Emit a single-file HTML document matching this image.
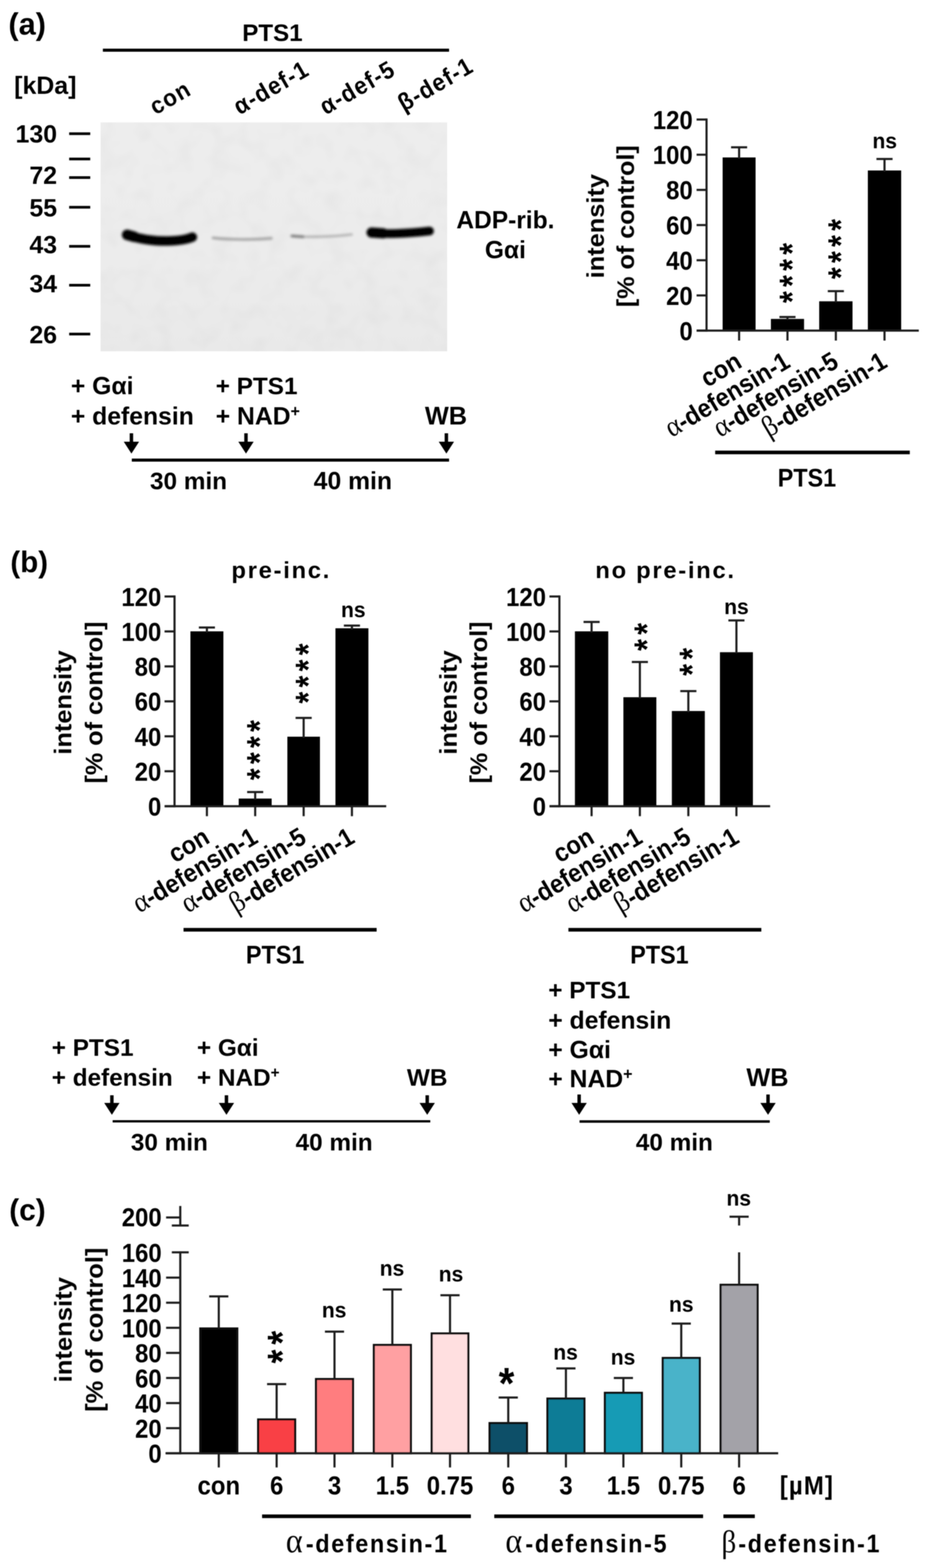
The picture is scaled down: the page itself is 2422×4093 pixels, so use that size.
<!DOCTYPE html>
<html lang="en">
<head>
<meta charset="utf-8">
<title>Figure: defensins and PTS1-mediated ADP-ribosylation of Gαi</title>
<style>
html,body{margin:0;padding:0;background:#fff;}
body{width:2422px;height:4093px;overflow:hidden;}
svg{display:block;}
text{font-family:"Liberation Sans",Arial,sans-serif;font-weight:bold;fill:#000;}
</style>
</head>
<body>
<svg width="2422" height="4093" viewBox="0 0 2422 4093">
<defs>
<filter id="b6" x="-20%" y="-100%" width="140%" height="300%"><feGaussianBlur stdDeviation="3.2"/></filter>
<filter id="b4" x="-20%" y="-100%" width="140%" height="300%"><feGaussianBlur stdDeviation="3"/></filter>
<linearGradient id="gelg" x1="0" y1="0" x2="0" y2="1"><stop offset="0" stop-color="#ededed"/><stop offset="0.55" stop-color="#ececec"/><stop offset="1" stop-color="#e9e9e9"/></linearGradient>
<filter id="noise" x="0" y="0" width="100%" height="100%"><feTurbulence type="fractalNoise" baseFrequency="0.02" numOctaves="2" seed="7" result="n"/><feColorMatrix in="n" type="matrix" values="0 0 0 0 0  0 0 0 0 0  0 0 0 0 0  0.9 0 0 0 -0.36" result="a"/><feComposite in="a" in2="SourceGraphic" operator="in"/></filter>
<filter id="soft" x="-1%" y="-1%" width="102%" height="102%"><feGaussianBlur stdDeviation="1.1"/></filter>
</defs>
<rect x="0" y="0" width="2422" height="4093" fill="#fff"/>
<g filter="url(#soft)">

<!-- panel a -->
<text transform="translate(22 90)" font-size="80">(a)</text>
<text transform="translate(711 107)" font-size="63" text-anchor="middle">PTS1</text>
<line x1="268.5" y1="131" x2="1172" y2="131" stroke="#000" stroke-width="8"/>
<text transform="translate(37 245)" font-size="65">[kDa]</text>
<text transform="translate(406 301) rotate(-30) scale(0.92 1)" font-size="63.5" letter-spacing="3.2">con</text>
<text transform="translate(625 301) rotate(-30) scale(0.92 1)" font-size="63.5" letter-spacing="3.2">α-def-1</text>
<text transform="translate(850 301) rotate(-30) scale(0.92 1)" font-size="63.5" letter-spacing="3.2">α-def-5</text>
<text transform="translate(1054 292) rotate(-30) scale(0.92 1)" font-size="63.5" letter-spacing="3.2">β-def-1</text>
<rect x="262.5" y="319.5" width="904.5" height="597.5" fill="url(#gelg)"/>
<rect x="262.5" y="319.5" width="904.5" height="597.5" fill="#000" opacity="0.05" filter="url(#noise)"/>
<g filter="url(#b6)" fill="none" stroke="#000" stroke-linecap="round">
<path d="M333 614 C365 624 400 630 440 629 C470 628 490 624 502 619" stroke-width="25"/>
<path d="M332 613 L350 618" stroke-width="28"/>
<path d="M968 607 C1000 612 1060 610 1121 603" stroke-width="23"/>
<path d="M970 607 L1000 609" stroke-width="27"/>
</g>
<g filter="url(#b4)" fill="none" stroke="#000" stroke-linecap="round">
<path d="M556 621 C600 626 660 626 708 622" stroke-width="7" opacity="0.3"/>
<path d="M762 616 C800 620 870 618 918 612" stroke-width="6" opacity="0.25"/>
<path d="M762 616 L790 618" stroke-width="8" opacity="0.3"/>
</g>
<line x1="180.5" y1="349" x2="235.5" y2="349" stroke="#000" stroke-width="7"/>
<text transform="translate(149 372)" font-size="65" text-anchor="end">130</text>
<line x1="180.5" y1="415" x2="235.5" y2="415" stroke="#000" stroke-width="7"/>
<line x1="180.5" y1="463.5" x2="235.5" y2="463.5" stroke="#000" stroke-width="7"/>
<text transform="translate(149 480)" font-size="65" text-anchor="end">72</text>
<line x1="180.5" y1="541" x2="235.5" y2="541" stroke="#000" stroke-width="7"/>
<text transform="translate(149 565)" font-size="65" text-anchor="end">55</text>
<line x1="180.5" y1="643" x2="235.5" y2="643" stroke="#000" stroke-width="7"/>
<text transform="translate(149 660.5)" font-size="65" text-anchor="end">43</text>
<line x1="180.5" y1="744.5" x2="235.5" y2="744.5" stroke="#000" stroke-width="7"/>
<text transform="translate(149 762.5)" font-size="65" text-anchor="end">34</text>
<line x1="180.5" y1="872" x2="235.5" y2="872" stroke="#000" stroke-width="7"/>
<text transform="translate(149 896)" font-size="65" text-anchor="end">26</text>
<text transform="translate(1319 596)" font-size="64" text-anchor="middle">ADP-rib.</text>
<text transform="translate(1319 674)" font-size="64" text-anchor="middle">Gαi</text>
<text transform="translate(185 1029)" font-size="64.5">+ Gαi</text>
<text transform="translate(185 1108)" font-size="64.5">+ defensin</text>
<text transform="translate(563 1029)" font-size="63.5">+ PTS1</text>
<text transform="translate(563 1108)" font-size="64.5">+ NAD<tspan font-size="42" dy="-21">+</tspan></text>
<text transform="translate(1164 1108)" font-size="66" text-anchor="middle">WB</text>
<path d="M338.5 1131 H347.5 V1153 H363 L343 1184 L323 1153 H338.5 Z" fill="#000"/>
<path d="M637.5 1131 H646.5 V1153 H662 L642 1184 L622 1153 H637.5 Z" fill="#000"/>
<path d="M1160.5 1131 H1169.5 V1153 H1185 L1165 1184 L1145 1153 H1160.5 Z" fill="#000"/>
<line x1="344" y1="1201" x2="1172" y2="1201" stroke="#000" stroke-width="8"/>
<text transform="translate(492 1277)" font-size="63.5" text-anchor="middle">30 min</text>
<text transform="translate(921 1277)" font-size="64.5" text-anchor="middle">40 min</text>
<rect x="1886" y="411" width="86" height="452" fill="#000"/>
<rect x="2012" y="832.5" width="86.5" height="30.5" fill="#000"/>
<rect x="2138" y="786.5" width="87" height="76.5" fill="#000"/>
<rect x="2265" y="445" width="87" height="418" fill="#000"/>
<line x1="1929" y1="414" x2="1929" y2="384.5" stroke="#1c1c1c" stroke-width="5.5"/>
<line x1="1908" y1="384.5" x2="1950" y2="384.5" stroke="#1c1c1c" stroke-width="5.5"/>
<line x1="2055.25" y1="835.5" x2="2055.25" y2="827.5" stroke="#1c1c1c" stroke-width="5.5"/>
<line x1="2034.25" y1="827.5" x2="2076.25" y2="827.5" stroke="#1c1c1c" stroke-width="5.5"/>
<line x1="2181.5" y1="789.5" x2="2181.5" y2="760" stroke="#1c1c1c" stroke-width="5.5"/>
<line x1="2160.5" y1="760" x2="2202.5" y2="760" stroke="#1c1c1c" stroke-width="5.5"/>
<line x1="2308.5" y1="448" x2="2308.5" y2="415" stroke="#1c1c1c" stroke-width="5.5"/>
<line x1="2287.5" y1="415" x2="2329.5" y2="415" stroke="#1c1c1c" stroke-width="5.5"/>
<line x1="1844" y1="309.25" x2="1844" y2="865.75" stroke="#1c1c1c" stroke-width="5.5"/>
<line x1="1818" y1="863" x2="2398" y2="863" stroke="#1c1c1c" stroke-width="5.5"/>
<line x1="1818" y1="863" x2="1844" y2="863" stroke="#1c1c1c" stroke-width="5.5"/>
<text transform="translate(1808 887.5) scale(1 1.09)" font-size="62.5" text-anchor="end">0</text>
<line x1="1818" y1="771.17" x2="1844" y2="771.17" stroke="#1c1c1c" stroke-width="5.5"/>
<text transform="translate(1808 795.67) scale(1 1.09)" font-size="62.5" text-anchor="end">20</text>
<line x1="1818" y1="679.33" x2="1844" y2="679.33" stroke="#1c1c1c" stroke-width="5.5"/>
<text transform="translate(1808 703.83) scale(1 1.09)" font-size="62.5" text-anchor="end">40</text>
<line x1="1818" y1="587.5" x2="1844" y2="587.5" stroke="#1c1c1c" stroke-width="5.5"/>
<text transform="translate(1808 612) scale(1 1.09)" font-size="62.5" text-anchor="end">60</text>
<line x1="1818" y1="495.67" x2="1844" y2="495.67" stroke="#1c1c1c" stroke-width="5.5"/>
<text transform="translate(1808 520.17) scale(1 1.09)" font-size="62.5" text-anchor="end">80</text>
<line x1="1818" y1="403.83" x2="1844" y2="403.83" stroke="#1c1c1c" stroke-width="5.5"/>
<text transform="translate(1808 428.33) scale(1 1.09)" font-size="62.5" text-anchor="end">100</text>
<line x1="1818" y1="312" x2="1844" y2="312" stroke="#1c1c1c" stroke-width="5.5"/>
<text transform="translate(1808 336.5) scale(1 1.09)" font-size="62.5" text-anchor="end">120</text>
<line x1="1929" y1="863" x2="1929" y2="889" stroke="#1c1c1c" stroke-width="5.5"/>
<text transform="translate(1940 956) rotate(-30.8) scale(1 1.09)" font-size="61.7" text-anchor="end">con</text>
<line x1="2055.25" y1="863" x2="2055.25" y2="889" stroke="#1c1c1c" stroke-width="5.5"/>
<text transform="translate(2066.25 956) rotate(-30.8) scale(1 1.09)" font-size="61.7" text-anchor="end"><tspan font-family="Liberation Serif, DejaVu Serif, serif" font-weight="normal" font-size="70">α</tspan><tspan dx="-1">-defensin-1</tspan></text>
<line x1="2181.5" y1="863" x2="2181.5" y2="889" stroke="#1c1c1c" stroke-width="5.5"/>
<text transform="translate(2192.5 956) rotate(-30.8) scale(1 1.09)" font-size="61.7" text-anchor="end"><tspan font-family="Liberation Serif, DejaVu Serif, serif" font-weight="normal" font-size="70">α</tspan><tspan dx="-1">-defensin-5</tspan></text>
<line x1="2308.5" y1="863" x2="2308.5" y2="889" stroke="#1c1c1c" stroke-width="5.5"/>
<text transform="translate(2319.5 956) rotate(-30.8) scale(1 1.09)" font-size="61.7" text-anchor="end"><tspan font-family="Liberation Serif, DejaVu Serif, serif" font-weight="normal" font-size="70">β</tspan>-defensin-1</text>
<text transform="translate(1576 590.5) rotate(-90) scale(1.06 1)" font-size="62.5" text-anchor="middle">intensity</text>
<text transform="translate(1654.5 590.5) rotate(-90) scale(1.05 1)" font-size="62.5" text-anchor="middle">[% of control]</text>
<line x1="1866.5" y1="1181" x2="2374.5" y2="1181" stroke="#000" stroke-width="9.5"/>
<text transform="translate(2106 1270) scale(1 1.1)" font-size="61" text-anchor="middle">PTS1</text>
<text transform="translate(2099.23 791) rotate(-90) scale(0.86 1)" font-size="92" letter-spacing="13">****</text>
<text transform="translate(2226.23 728.5) rotate(-90) scale(0.86 1)" font-size="92" letter-spacing="13">****</text>
<text transform="translate(2309 387) scale(1 1.06)" font-size="55" text-anchor="middle">ns</text>
<!-- panel b -->
<text transform="translate(27 1494)" font-size="77">(b)</text>
<text transform="translate(734 1509)" font-size="62" text-anchor="middle" letter-spacing="4.5">pre-inc.</text>
<rect x="497" y="1648" width="86" height="456.5" fill="#000"/>
<rect x="623" y="2084.5" width="86" height="20" fill="#000"/>
<rect x="750" y="1923" width="85" height="181.5" fill="#000"/>
<rect x="875.5" y="1640" width="86" height="464.5" fill="#000"/>
<line x1="540" y1="1651" x2="540" y2="1638" stroke="#1c1c1c" stroke-width="5.5"/>
<line x1="519" y1="1638" x2="561" y2="1638" stroke="#1c1c1c" stroke-width="5.5"/>
<line x1="666" y1="2087.5" x2="666" y2="2067.5" stroke="#1c1c1c" stroke-width="5.5"/>
<line x1="645" y1="2067.5" x2="687" y2="2067.5" stroke="#1c1c1c" stroke-width="5.5"/>
<line x1="792.5" y1="1926" x2="792.5" y2="1874" stroke="#1c1c1c" stroke-width="5.5"/>
<line x1="771.5" y1="1874" x2="813.5" y2="1874" stroke="#1c1c1c" stroke-width="5.5"/>
<line x1="918.5" y1="1643" x2="918.5" y2="1633" stroke="#1c1c1c" stroke-width="5.5"/>
<line x1="897.5" y1="1633" x2="939.5" y2="1633" stroke="#1c1c1c" stroke-width="5.5"/>
<line x1="455.5" y1="1554.25" x2="455.5" y2="2107.25" stroke="#1c1c1c" stroke-width="5.5"/>
<line x1="430" y1="2104.5" x2="1008" y2="2104.5" stroke="#1c1c1c" stroke-width="5.5"/>
<line x1="429.5" y1="2104.5" x2="455.5" y2="2104.5" stroke="#1c1c1c" stroke-width="5.5"/>
<text transform="translate(421 2129) scale(1 1.09)" font-size="62.5" text-anchor="end">0</text>
<line x1="429.5" y1="2013.25" x2="455.5" y2="2013.25" stroke="#1c1c1c" stroke-width="5.5"/>
<text transform="translate(421 2037.75) scale(1 1.09)" font-size="62.5" text-anchor="end">20</text>
<line x1="429.5" y1="1922" x2="455.5" y2="1922" stroke="#1c1c1c" stroke-width="5.5"/>
<text transform="translate(421 1946.5) scale(1 1.09)" font-size="62.5" text-anchor="end">40</text>
<line x1="429.5" y1="1830.75" x2="455.5" y2="1830.75" stroke="#1c1c1c" stroke-width="5.5"/>
<text transform="translate(421 1855.25) scale(1 1.09)" font-size="62.5" text-anchor="end">60</text>
<line x1="429.5" y1="1739.5" x2="455.5" y2="1739.5" stroke="#1c1c1c" stroke-width="5.5"/>
<text transform="translate(421 1764) scale(1 1.09)" font-size="62.5" text-anchor="end">80</text>
<line x1="429.5" y1="1648.25" x2="455.5" y2="1648.25" stroke="#1c1c1c" stroke-width="5.5"/>
<text transform="translate(421 1672.75) scale(1 1.09)" font-size="62.5" text-anchor="end">100</text>
<line x1="429.5" y1="1557" x2="455.5" y2="1557" stroke="#1c1c1c" stroke-width="5.5"/>
<text transform="translate(421 1581.5) scale(1 1.09)" font-size="62.5" text-anchor="end">120</text>
<line x1="540" y1="2104.5" x2="540" y2="2130.5" stroke="#1c1c1c" stroke-width="5.5"/>
<text transform="translate(551 2197.5) rotate(-30.8) scale(1 1.09)" font-size="61.7" text-anchor="end">con</text>
<line x1="666" y1="2104.5" x2="666" y2="2130.5" stroke="#1c1c1c" stroke-width="5.5"/>
<text transform="translate(677 2197.5) rotate(-30.8) scale(1 1.09)" font-size="61.7" text-anchor="end"><tspan font-family="Liberation Serif, DejaVu Serif, serif" font-weight="normal" font-size="70">α</tspan><tspan dx="-1">-defensin-1</tspan></text>
<line x1="792.5" y1="2104.5" x2="792.5" y2="2130.5" stroke="#1c1c1c" stroke-width="5.5"/>
<text transform="translate(803.5 2197.5) rotate(-30.8) scale(1 1.09)" font-size="61.7" text-anchor="end"><tspan font-family="Liberation Serif, DejaVu Serif, serif" font-weight="normal" font-size="70">α</tspan><tspan dx="-1">-defensin-5</tspan></text>
<line x1="918.5" y1="2104.5" x2="918.5" y2="2130.5" stroke="#1c1c1c" stroke-width="5.5"/>
<text transform="translate(929.5 2197.5) rotate(-30.8) scale(1 1.09)" font-size="61.7" text-anchor="end"><tspan font-family="Liberation Serif, DejaVu Serif, serif" font-weight="normal" font-size="70">β</tspan>-defensin-1</text>
<text transform="translate(186 1833.75) rotate(-90) scale(1.06 1)" font-size="62.5" text-anchor="middle">intensity</text>
<text transform="translate(267 1833.75) rotate(-90) scale(1.05 1)" font-size="62.5" text-anchor="middle">[% of control]</text>
<line x1="479" y1="2427" x2="983" y2="2427" stroke="#000" stroke-width="9.5"/>
<text transform="translate(718 2515) scale(1 1.1)" font-size="61" text-anchor="middle">PTS1</text>
<text transform="translate(708.83 2036.5) rotate(-90) scale(0.86 1)" font-size="92" letter-spacing="13">****</text>
<text transform="translate(836.23 1836.5) rotate(-90) scale(0.86 1)" font-size="92" letter-spacing="13">****</text>
<text transform="translate(922 1611) scale(1 1.06)" font-size="55" text-anchor="middle">ns</text>
<text transform="translate(1737 1509)" font-size="62" text-anchor="middle" letter-spacing="4.5">no pre-inc.</text>
<rect x="1500.5" y="1648" width="87" height="456.5" fill="#000"/>
<rect x="1627" y="1820" width="86" height="284.5" fill="#000"/>
<rect x="1753.5" y="1856" width="86" height="248.5" fill="#000"/>
<rect x="1879" y="1702.5" width="86" height="402" fill="#000"/>
<line x1="1544" y1="1651" x2="1544" y2="1623.5" stroke="#1c1c1c" stroke-width="5.5"/>
<line x1="1523" y1="1623.5" x2="1565" y2="1623.5" stroke="#1c1c1c" stroke-width="5.5"/>
<line x1="1670" y1="1823" x2="1670" y2="1728" stroke="#1c1c1c" stroke-width="5.5"/>
<line x1="1649" y1="1728" x2="1691" y2="1728" stroke="#1c1c1c" stroke-width="5.5"/>
<line x1="1796.5" y1="1859" x2="1796.5" y2="1804" stroke="#1c1c1c" stroke-width="5.5"/>
<line x1="1775.5" y1="1804" x2="1817.5" y2="1804" stroke="#1c1c1c" stroke-width="5.5"/>
<line x1="1922" y1="1705.5" x2="1922" y2="1619.5" stroke="#1c1c1c" stroke-width="5.5"/>
<line x1="1901" y1="1619.5" x2="1943" y2="1619.5" stroke="#1c1c1c" stroke-width="5.5"/>
<line x1="1460" y1="1554.25" x2="1460" y2="2107.25" stroke="#1c1c1c" stroke-width="5.5"/>
<line x1="1434" y1="2104.5" x2="2010" y2="2104.5" stroke="#1c1c1c" stroke-width="5.5"/>
<line x1="1434" y1="2104.5" x2="1460" y2="2104.5" stroke="#1c1c1c" stroke-width="5.5"/>
<text transform="translate(1425 2129) scale(1 1.09)" font-size="62.5" text-anchor="end">0</text>
<line x1="1434" y1="2013.25" x2="1460" y2="2013.25" stroke="#1c1c1c" stroke-width="5.5"/>
<text transform="translate(1425 2037.75) scale(1 1.09)" font-size="62.5" text-anchor="end">20</text>
<line x1="1434" y1="1922" x2="1460" y2="1922" stroke="#1c1c1c" stroke-width="5.5"/>
<text transform="translate(1425 1946.5) scale(1 1.09)" font-size="62.5" text-anchor="end">40</text>
<line x1="1434" y1="1830.75" x2="1460" y2="1830.75" stroke="#1c1c1c" stroke-width="5.5"/>
<text transform="translate(1425 1855.25) scale(1 1.09)" font-size="62.5" text-anchor="end">60</text>
<line x1="1434" y1="1739.5" x2="1460" y2="1739.5" stroke="#1c1c1c" stroke-width="5.5"/>
<text transform="translate(1425 1764) scale(1 1.09)" font-size="62.5" text-anchor="end">80</text>
<line x1="1434" y1="1648.25" x2="1460" y2="1648.25" stroke="#1c1c1c" stroke-width="5.5"/>
<text transform="translate(1425 1672.75) scale(1 1.09)" font-size="62.5" text-anchor="end">100</text>
<line x1="1434" y1="1557" x2="1460" y2="1557" stroke="#1c1c1c" stroke-width="5.5"/>
<text transform="translate(1425 1581.5) scale(1 1.09)" font-size="62.5" text-anchor="end">120</text>
<line x1="1544" y1="2104.5" x2="1544" y2="2130.5" stroke="#1c1c1c" stroke-width="5.5"/>
<text transform="translate(1555 2197.5) rotate(-30.8) scale(1 1.09)" font-size="61.7" text-anchor="end">con</text>
<line x1="1670" y1="2104.5" x2="1670" y2="2130.5" stroke="#1c1c1c" stroke-width="5.5"/>
<text transform="translate(1681 2197.5) rotate(-30.8) scale(1 1.09)" font-size="61.7" text-anchor="end"><tspan font-family="Liberation Serif, DejaVu Serif, serif" font-weight="normal" font-size="70">α</tspan><tspan dx="-1">-defensin-1</tspan></text>
<line x1="1796.5" y1="2104.5" x2="1796.5" y2="2130.5" stroke="#1c1c1c" stroke-width="5.5"/>
<text transform="translate(1807.5 2197.5) rotate(-30.8) scale(1 1.09)" font-size="61.7" text-anchor="end"><tspan font-family="Liberation Serif, DejaVu Serif, serif" font-weight="normal" font-size="70">α</tspan><tspan dx="-1">-defensin-5</tspan></text>
<line x1="1922" y1="2104.5" x2="1922" y2="2130.5" stroke="#1c1c1c" stroke-width="5.5"/>
<text transform="translate(1933 2197.5) rotate(-30.8) scale(1 1.09)" font-size="61.7" text-anchor="end"><tspan font-family="Liberation Serif, DejaVu Serif, serif" font-weight="normal" font-size="70">β</tspan>-defensin-1</text>
<text transform="translate(1192 1833.75) rotate(-90) scale(1.06 1)" font-size="62.5" text-anchor="middle">intensity</text>
<text transform="translate(1271 1833.75) rotate(-90) scale(1.05 1)" font-size="62.5" text-anchor="middle">[% of control]</text>
<line x1="1483.5" y1="2427" x2="1987" y2="2427" stroke="#000" stroke-width="9.5"/>
<text transform="translate(1721 2515) scale(1 1.1)" font-size="61" text-anchor="middle">PTS1</text>
<text transform="translate(1719.93 1699) rotate(-90) scale(0.86 1)" font-size="92" letter-spacing="13">**</text>
<text transform="translate(1838.23 1764) rotate(-90) scale(0.86 1)" font-size="92" letter-spacing="13">**</text>
<text transform="translate(1922 1603) scale(1 1.06)" font-size="55" text-anchor="middle">ns</text>
<text transform="translate(135 2756)" font-size="63.5">+ PTS1</text>
<text transform="translate(135 2834)" font-size="63.5">+ defensin</text>
<text transform="translate(514 2756)" font-size="63.5">+ Gαi</text>
<text transform="translate(514 2834)" font-size="63.5">+ NAD<tspan font-size="40" dy="-21">+</tspan></text>
<text transform="translate(1115 2834)" font-size="63.5" text-anchor="middle">WB</text>
<path d="M287.5 2859 H296.5 V2879 H312 L292 2910 L272 2879 H287.5 Z" fill="#000"/>
<path d="M586.5 2859 H595.5 V2879 H611 L591 2910 L571 2879 H586.5 Z" fill="#000"/>
<path d="M1110.5 2859 H1119.5 V2879 H1135 L1115 2910 L1095 2879 H1110.5 Z" fill="#000"/>
<line x1="294" y1="2927" x2="1123" y2="2927" stroke="#000" stroke-width="6"/>
<text transform="translate(442 3003)" font-size="63.5" text-anchor="middle">30 min</text>
<text transform="translate(872 3003)" font-size="63.5" text-anchor="middle">40 min</text>
<text transform="translate(1431 2606)" font-size="63.5">+ PTS1</text>
<text transform="translate(1431 2684.5)" font-size="64.5">+ defensin</text>
<text transform="translate(1431 2762)" font-size="64.5">+ Gαi</text>
<text transform="translate(1431 2837.5)" font-size="64.5">+ NAD<tspan font-size="42" dy="-21">+</tspan></text>
<text transform="translate(2003 2835)" font-size="66" text-anchor="middle">WB</text>
<path d="M1507 2857 H1516 V2879 H1531.5 L1511.5 2910 L1491.5 2879 H1507 Z" fill="#000"/>
<path d="M2000 2857 H2009 V2879 H2024.5 L2004.5 2910 L1984.5 2879 H2000 Z" fill="#000"/>
<line x1="1512.5" y1="2927.5" x2="2009" y2="2927.5" stroke="#000" stroke-width="6.5"/>
<text transform="translate(1760 3003)" font-size="63.5" text-anchor="middle">40 min</text>
<!-- panel c -->
<text transform="translate(24 3185)" font-size="78">(c)</text>
<rect x="522.75" y="3467.75" width="96.5" height="325.75" fill="#000000" stroke="#111" stroke-width="5.5"/>
<rect x="673.75" y="3705.25" width="96.5" height="88.25" fill="#f94144" stroke="#111" stroke-width="5.5"/>
<rect x="824.75" y="3599.75" width="96.5" height="193.75" fill="#ff7d7f" stroke="#111" stroke-width="5.5"/>
<rect x="975.75" y="3510.75" width="96.5" height="282.75" fill="#ffa0a2" stroke="#111" stroke-width="5.5"/>
<rect x="1126.75" y="3480.75" width="95.5" height="312.75" fill="#ffdfe0" stroke="#111" stroke-width="5.5"/>
<rect x="1277.75" y="3714.75" width="97.5" height="78.75" fill="#075068" stroke="#111" stroke-width="5.5"/>
<rect x="1428.75" y="3650.75" width="96.5" height="142.75" fill="#0a7c96" stroke="#111" stroke-width="5.5"/>
<rect x="1578.75" y="3635.75" width="96.5" height="157.75" fill="#129bb5" stroke="#111" stroke-width="5.5"/>
<rect x="1729.75" y="3544.75" width="96.5" height="248.75" fill="#48b3c9" stroke="#111" stroke-width="5.5"/>
<rect x="1880.75" y="3353.75" width="96.5" height="439.75" fill="#a3a2a8" stroke="#111" stroke-width="5.5"/>
<line x1="571" y1="3467" x2="571" y2="3384" stroke="#1c1c1c" stroke-width="5.5"/>
<line x1="546" y1="3384" x2="596" y2="3384" stroke="#1c1c1c" stroke-width="5.5"/>
<line x1="722" y1="3704.5" x2="722" y2="3613" stroke="#1c1c1c" stroke-width="5.5"/>
<line x1="697" y1="3613" x2="747" y2="3613" stroke="#1c1c1c" stroke-width="5.5"/>
<line x1="873" y1="3599" x2="873" y2="3476" stroke="#1c1c1c" stroke-width="5.5"/>
<line x1="848" y1="3476" x2="898" y2="3476" stroke="#1c1c1c" stroke-width="5.5"/>
<line x1="1024" y1="3510" x2="1024" y2="3366" stroke="#1c1c1c" stroke-width="5.5"/>
<line x1="999" y1="3366" x2="1049" y2="3366" stroke="#1c1c1c" stroke-width="5.5"/>
<line x1="1174.5" y1="3480" x2="1174.5" y2="3381" stroke="#1c1c1c" stroke-width="5.5"/>
<line x1="1149.5" y1="3381" x2="1199.5" y2="3381" stroke="#1c1c1c" stroke-width="5.5"/>
<line x1="1326.5" y1="3714" x2="1326.5" y2="3648" stroke="#1c1c1c" stroke-width="5.5"/>
<line x1="1301.5" y1="3648" x2="1351.5" y2="3648" stroke="#1c1c1c" stroke-width="5.5"/>
<line x1="1477" y1="3650" x2="1477" y2="3572" stroke="#1c1c1c" stroke-width="5.5"/>
<line x1="1452" y1="3572" x2="1502" y2="3572" stroke="#1c1c1c" stroke-width="5.5"/>
<line x1="1627" y1="3635" x2="1627" y2="3597" stroke="#1c1c1c" stroke-width="5.5"/>
<line x1="1602" y1="3597" x2="1652" y2="3597" stroke="#1c1c1c" stroke-width="5.5"/>
<line x1="1778" y1="3544" x2="1778" y2="3455" stroke="#1c1c1c" stroke-width="5.5"/>
<line x1="1753" y1="3455" x2="1803" y2="3455" stroke="#1c1c1c" stroke-width="5.5"/>
<line x1="1929" y1="3353" x2="1929" y2="3269" stroke="#1c1c1c" stroke-width="5.5"/>
<line x1="1929" y1="3199" x2="1929" y2="3176" stroke="#1c1c1c" stroke-width="5.5"/>
<line x1="1904" y1="3176" x2="1954" y2="3176" stroke="#1c1c1c" stroke-width="5.5"/>
<line x1="470.5" y1="3266.75" x2="470.5" y2="3796.25" stroke="#1c1c1c" stroke-width="5.5"/>
<line x1="432" y1="3793.5" x2="2031" y2="3793.5" stroke="#1c1c1c" stroke-width="5.5"/>
<line x1="448.5" y1="3269" x2="492.5" y2="3269" stroke="#1c1c1c" stroke-width="5.5"/>
<line x1="433.5" y1="3793.5" x2="470.5" y2="3793.5" stroke="#1c1c1c" stroke-width="5.5"/>
<text transform="translate(422 3818) scale(1 1.09)" font-size="62.5" text-anchor="end">0</text>
<line x1="433.5" y1="3728" x2="470.5" y2="3728" stroke="#1c1c1c" stroke-width="5.5"/>
<text transform="translate(422 3752.5) scale(1 1.09)" font-size="62.5" text-anchor="end">20</text>
<line x1="433.5" y1="3662.5" x2="470.5" y2="3662.5" stroke="#1c1c1c" stroke-width="5.5"/>
<text transform="translate(422 3687) scale(1 1.09)" font-size="62.5" text-anchor="end">40</text>
<line x1="433.5" y1="3597" x2="470.5" y2="3597" stroke="#1c1c1c" stroke-width="5.5"/>
<text transform="translate(422 3621.5) scale(1 1.09)" font-size="62.5" text-anchor="end">60</text>
<line x1="433.5" y1="3531.5" x2="470.5" y2="3531.5" stroke="#1c1c1c" stroke-width="5.5"/>
<text transform="translate(422 3556) scale(1 1.09)" font-size="62.5" text-anchor="end">80</text>
<line x1="433.5" y1="3466" x2="470.5" y2="3466" stroke="#1c1c1c" stroke-width="5.5"/>
<text transform="translate(422 3490.5) scale(1 1.09)" font-size="62.5" text-anchor="end">100</text>
<line x1="433.5" y1="3400.5" x2="470.5" y2="3400.5" stroke="#1c1c1c" stroke-width="5.5"/>
<text transform="translate(422 3425) scale(1 1.09)" font-size="62.5" text-anchor="end">120</text>
<line x1="433.5" y1="3335" x2="470.5" y2="3335" stroke="#1c1c1c" stroke-width="5.5"/>
<text transform="translate(422 3359.5) scale(1 1.09)" font-size="62.5" text-anchor="end">140</text>
<text transform="translate(422 3294) scale(1 1.09)" font-size="62.5" text-anchor="end">160</text>
<line x1="470.5" y1="3148" x2="470.5" y2="3199" stroke="#1c1c1c" stroke-width="5.5"/>
<line x1="448.5" y1="3199" x2="492.5" y2="3199" stroke="#1c1c1c" stroke-width="5.5"/>
<line x1="433.5" y1="3178" x2="470.5" y2="3178" stroke="#1c1c1c" stroke-width="5.5"/>
<text transform="translate(422 3201) scale(1 1.09)" font-size="62.5" text-anchor="end">200</text>
<line x1="571" y1="3793.5" x2="571" y2="3830.5" stroke="#1c1c1c" stroke-width="5.5"/>
<text transform="translate(571 3901) scale(1 1.09)" font-size="62.5" text-anchor="middle">con</text>
<line x1="722" y1="3793.5" x2="722" y2="3830.5" stroke="#1c1c1c" stroke-width="5.5"/>
<text transform="translate(722 3901) scale(1 1.09)" font-size="62.5" text-anchor="middle">6</text>
<line x1="873" y1="3793.5" x2="873" y2="3830.5" stroke="#1c1c1c" stroke-width="5.5"/>
<text transform="translate(873 3901) scale(1 1.09)" font-size="62.5" text-anchor="middle">3</text>
<line x1="1024" y1="3793.5" x2="1024" y2="3830.5" stroke="#1c1c1c" stroke-width="5.5"/>
<text transform="translate(1024 3901) scale(1 1.09)" font-size="62.5" text-anchor="middle">1.5</text>
<line x1="1174.5" y1="3793.5" x2="1174.5" y2="3830.5" stroke="#1c1c1c" stroke-width="5.5"/>
<text transform="translate(1174.5 3901) scale(1 1.09)" font-size="62.5" text-anchor="middle">0.75</text>
<line x1="1326.5" y1="3793.5" x2="1326.5" y2="3830.5" stroke="#1c1c1c" stroke-width="5.5"/>
<text transform="translate(1326.5 3901) scale(1 1.09)" font-size="62.5" text-anchor="middle">6</text>
<line x1="1477" y1="3793.5" x2="1477" y2="3830.5" stroke="#1c1c1c" stroke-width="5.5"/>
<text transform="translate(1477 3901) scale(1 1.09)" font-size="62.5" text-anchor="middle">3</text>
<line x1="1627" y1="3793.5" x2="1627" y2="3830.5" stroke="#1c1c1c" stroke-width="5.5"/>
<text transform="translate(1627 3901) scale(1 1.09)" font-size="62.5" text-anchor="middle">1.5</text>
<line x1="1778" y1="3793.5" x2="1778" y2="3830.5" stroke="#1c1c1c" stroke-width="5.5"/>
<text transform="translate(1778 3901) scale(1 1.09)" font-size="62.5" text-anchor="middle">0.75</text>
<line x1="1929" y1="3793.5" x2="1929" y2="3830.5" stroke="#1c1c1c" stroke-width="5.5"/>
<text transform="translate(1929 3901) scale(1 1.09)" font-size="62.5" text-anchor="middle">6</text>
<text transform="translate(2106 3901) scale(1 1.09)" font-size="62.5" text-anchor="middle" letter-spacing="3">[µM]</text>
<text transform="translate(187 3471) rotate(-90) scale(1.07 1)" font-size="62.5" text-anchor="middle">intensity</text>
<text transform="translate(268 3471) rotate(-90) scale(1.065 1)" font-size="62.5" text-anchor="middle">[% of control]</text>
<text transform="translate(872 3439) scale(1 1.06)" font-size="55" text-anchor="middle">ns</text>
<text transform="translate(1023 3330) scale(1 1.06)" font-size="55" text-anchor="middle">ns</text>
<text transform="translate(1177 3345) scale(1 1.06)" font-size="55" text-anchor="middle">ns</text>
<text transform="translate(1778 3424) scale(1 1.06)" font-size="55" text-anchor="middle">ns</text>
<text transform="translate(1476 3549) scale(1 1.06)" font-size="55" text-anchor="middle">ns</text>
<text transform="translate(1626 3562) scale(1 1.06)" font-size="55" text-anchor="middle">ns</text>
<text transform="translate(1928 3147) scale(1 1.06)" font-size="55" text-anchor="middle">ns</text>
<text transform="translate(773.27 3559) rotate(-90) scale(0.86 1)" font-size="108" letter-spacing="15">**</text>
<text transform="translate(1322 3650) scale(1 1.09)" font-size="105" text-anchor="middle">*</text>
<line x1="684" y1="3958" x2="1229" y2="3958" stroke="#000" stroke-width="9.5"/>
<line x1="1290" y1="3958" x2="1835" y2="3958" stroke="#000" stroke-width="9.5"/>
<line x1="1888" y1="3958" x2="1970" y2="3958" stroke="#000" stroke-width="9.5"/>
<text transform="translate(746 4052) scale(1 1.09)" font-size="61" letter-spacing="4.3"><tspan font-family="Liberation Serif, DejaVu Serif, serif" font-weight="normal" font-size="84">α</tspan><tspan dx="4">-defensin-1</tspan></text>
<text transform="translate(1319 4052) scale(1 1.09)" font-size="61" letter-spacing="4.3"><tspan font-family="Liberation Serif, DejaVu Serif, serif" font-weight="normal" font-size="84">α</tspan><tspan dx="4">-defensin-5</tspan></text>
<text transform="translate(1883 4052) scale(1 1.09)" font-size="61" letter-spacing="4.3"><tspan font-family="Liberation Serif, DejaVu Serif, serif" font-weight="normal" font-size="76">β</tspan><tspan dx="1">-defensin-1</tspan></text>
</g>
</svg>
</body>
</html>
